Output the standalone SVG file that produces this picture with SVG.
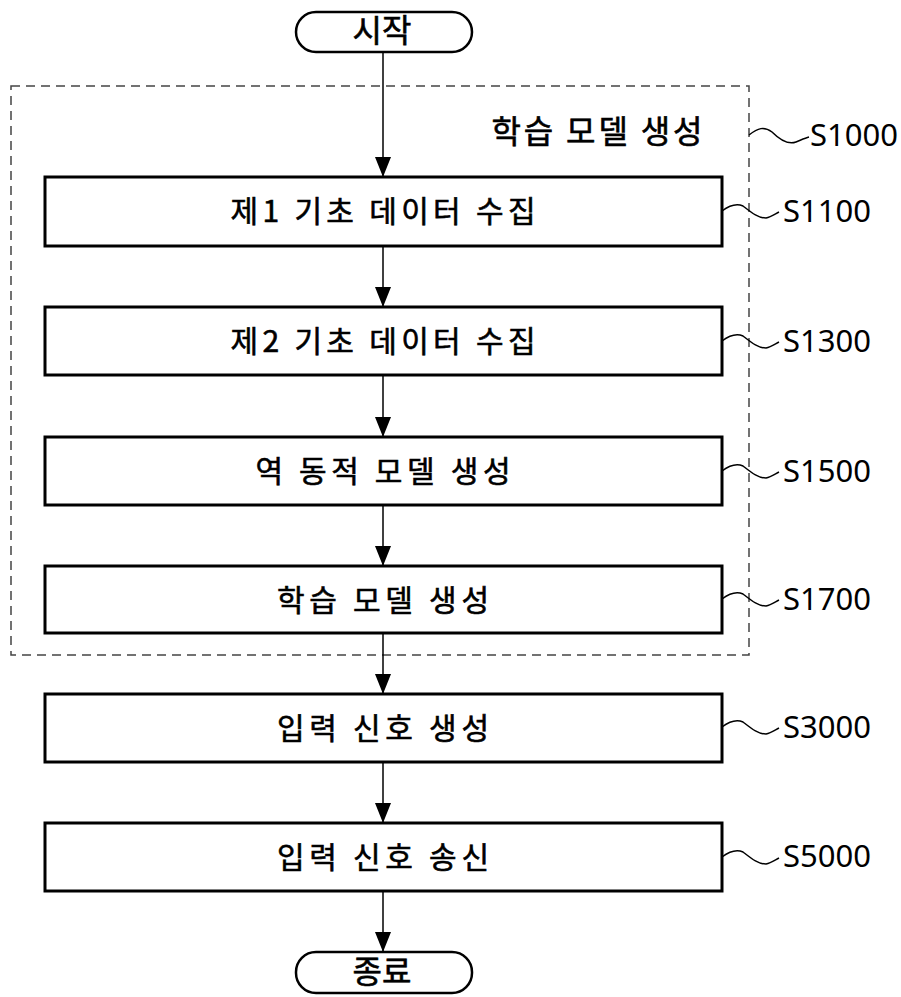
<svg xmlns="http://www.w3.org/2000/svg" width="901" height="997" viewBox="0 0 901 997">
<defs>
<marker id="ah" markerWidth="20" markerHeight="16" refX="20" refY="8" orient="auto" markerUnits="userSpaceOnUse" viewBox="0 0 20 16">
<path d="M0,0 L20,8 L0,16 Z" fill="#000"/>
</marker>
</defs>
<style>
.box{fill:#fff;stroke:#000;stroke-width:3}
.term{fill:#fff;stroke:#000;stroke-width:2.5}
.t{font-family:"Noto Sans CJK KR","Noto Sans",sans-serif;font-size:30px;font-weight:400;fill:#000;text-anchor:middle;stroke:#000;stroke-width:0.6}
.lbl{font-family:"Noto Sans","Liberation Sans",sans-serif;font-size:31px;fill:#000}
.wave{fill:none;stroke:#000;stroke-width:1.5}
.conn{stroke:#000;stroke-width:1.5;fill:none}
</style>
<rect x="11" y="86" width="738" height="569" fill="none" stroke="#444" stroke-width="1.5" stroke-dasharray="9,6"/>
<text class="t" x="597" y="143" style="font-size:32px" textLength="211" lengthAdjust="spacing">학습 모델 생성</text>
<g id="connectors">
<line class="conn" x1="383" y1="52" x2="383" y2="177" marker-end="url(#ah)"/>
<line class="conn" x1="383" y1="246" x2="383" y2="307" marker-end="url(#ah)"/>
<line class="conn" x1="383" y1="375" x2="383" y2="437" marker-end="url(#ah)"/>
<line class="conn" x1="383" y1="505" x2="383" y2="566" marker-end="url(#ah)"/>
<line class="conn" x1="383" y1="633" x2="383" y2="694" marker-end="url(#ah)"/>
<line class="conn" x1="383" y1="762" x2="383" y2="823" marker-end="url(#ah)"/>
<line class="conn" x1="383" y1="891" x2="383" y2="952" marker-end="url(#ah)"/>
</g>
<g id="start">
<rect class="term" x="296" y="12" width="176" height="40" rx="20"/>
<text class="t" x="382" y="42" style="font-size:32px">시작</text>
</g>
<g id="S1000">
<path class="wave" d="M749,135 C758,128 764,126 772,132 C780,140 788,145 796,142 C801,140 805,138 809,137"/>
<text class="lbl" x="810" y="146">S1000</text>
</g>
<g id="S1100">
<rect class="box" x="45" y="177" width="677" height="69"/>
<text class="t" x="383" y="222" textLength="305" lengthAdjust="spacing">제1 기초 데이터 수집</text>
<path class="wave" d="M722,211 C730,205 736,203 743,206 C752,213 758,218 766,218 C771,217 775,214 779,212"/>
<text class="lbl" x="783" y="222">S1100</text>
</g>
<g id="S1300">
<rect class="box" x="45" y="307" width="677" height="68"/>
<text class="t" x="383" y="352" textLength="305" lengthAdjust="spacing">제2 기초 데이터 수집</text>
<path class="wave" d="M722,341 C730,335 736,333 743,336 C752,343 758,348 766,348 C771,347 775,344 779,342"/>
<text class="lbl" x="783" y="352">S1300</text>
</g>
<g id="S1500">
<rect class="box" x="45" y="437" width="677" height="68"/>
<text class="t" x="383" y="482" textLength="255" lengthAdjust="spacing">역 동적 모델 생성</text>
<path class="wave" d="M722,471 C730,465 736,463 743,466 C752,473 758,478 766,478 C771,477 775,474 779,472"/>
<text class="lbl" x="783" y="482">S1500</text>
</g>
<g id="S1700">
<rect class="box" x="45" y="566" width="677" height="67"/>
<text class="t" x="383" y="611" textLength="212" lengthAdjust="spacing">학습 모델 생성</text>
<path class="wave" d="M722,599 C730,593 736,591 743,594 C752,601 758,606 766,606 C771,605 775,602 779,600"/>
<text class="lbl" x="783" y="610">S1700</text>
</g>
<g id="S3000">
<rect class="box" x="45" y="694" width="677" height="68"/>
<text class="t" x="383" y="739" textLength="212" lengthAdjust="spacing">입력 신호 생성</text>
<path class="wave" d="M722,727 C730,721 736,719 743,722 C752,729 758,734 766,734 C771,733 775,730 779,728"/>
<text class="lbl" x="783" y="738">S3000</text>
</g>
<g id="S5000">
<rect class="box" x="45" y="823" width="677" height="68"/>
<text class="t" x="383" y="868" textLength="212" lengthAdjust="spacing">입력 신호 송신</text>
<path class="wave" d="M722,857 C730,851 736,849 743,852 C752,859 758,864 766,864 C771,863 775,860 779,858"/>
<text class="lbl" x="783" y="867">S5000</text>
</g>
<g id="end">
<rect class="term" x="296" y="952" width="176" height="41" rx="20"/>
<text class="t" x="382" y="983" style="font-size:32px">종료</text>
</g>
</svg>
